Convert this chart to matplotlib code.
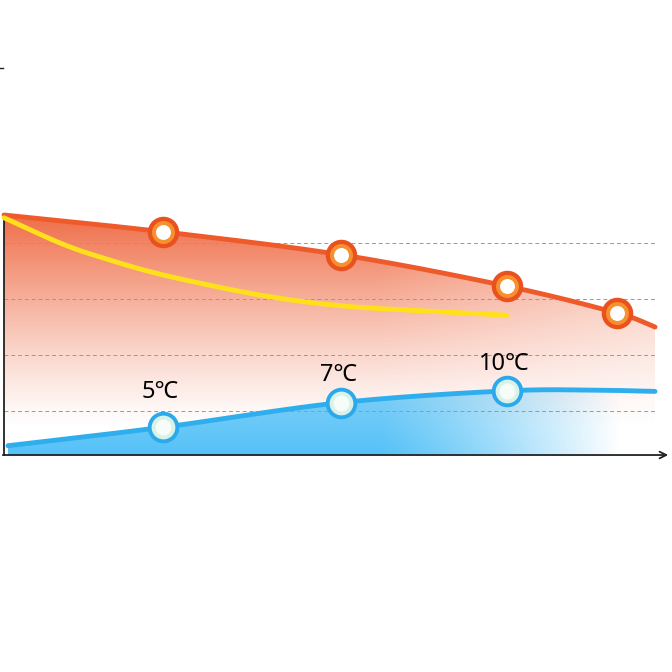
import numpy as np
import matplotlib
matplotlib.use("Agg")
import matplotlib.pyplot as plt
from matplotlib.path import Path
from matplotlib.patches import PathPatch, FancyArrowPatch

plt.rcParams['font.family'] = ['Noto Sans', 'Noto Sans CJK SC', 'DejaVu Sans']

# readings (x in chart units, y in grid units: gridlines at 1..4)
hot_x = [4, 163, 341, 507, 617, 655]
hot_y = [4.50, 4.20, 3.79, 3.23, 2.75, 2.50]
hot_mark_x = [163, 341, 507, 617]
hot_mark_y = [4.20, 3.79, 3.23, 2.75]

yel_x = [4, 60, 100, 163, 260, 340, 420, 507]
yel_y = [4.45, 4.00, 3.75, 3.43, 3.07, 2.88, 2.79, 2.71]

cold_x = [8, 163, 341, 507, 600, 655]
cold_y = [0.38, 0.71, 1.15, 1.36, 1.37, 1.35]
cold_mark_x = [163, 341, 507]
cold_mark_y = [0.71, 1.15, 1.36]
cold_labels = ['5℃', '7℃', '10℃']
label_gap = [0.42, 0.28, 0.26]

grid_y = [1, 2, 3, 4]
y_base = 0.214


def smooth(xs, ys, n=40):
    # catmull-rom through the read points, just for drawing
    xs = np.asarray(xs, float); ys = np.asarray(ys, float)
    px = np.concatenate([[2*xs[0]-xs[1]], xs, [2*xs[-1]-xs[-2]]])
    py = np.concatenate([[2*ys[0]-ys[1]], ys, [2*ys[-1]-ys[-2]]])
    ox, oy = [], []
    t = np.linspace(0, 1, n)
    for i in range(1, len(px)-2):
        for arr, out in ((px, ox), (py, oy)):
            p0, p1, p2, p3 = arr[i-1], arr[i], arr[i+1], arr[i+2]
            out.extend(0.5*((2*p1) + (-p0+p2)*t + (2*p0-5*p1+4*p2-p3)*t**2 + (-p0+3*p1-3*p2+p3)*t**3))
    return np.array(ox), np.array(oy)


fig = plt.figure(figsize=(6.72, 6.72), dpi=100)
ax = fig.add_axes([0, 0, 1, 1])
ax.set_xlim(0, 672)
ax.set_ylim(1 - 261/56, 1 + 411/56)
ax.axis('off')

# orange gradient fill
hx, hy = smooth(hot_x, hot_y)
verts = list(zip(hx, hy)) + [(hx[-1], y_base), (hx[0], y_base)]
clip = PathPatch(Path(verts), facecolor='none', edgecolor='none')
ax.add_patch(clip)
gx = np.linspace(0, 672, 300)
gy = np.linspace(y_base, 4.6, 200)
GX, GY = np.meshgrid(gx, gy)
va = np.clip((GY - 0.7) / (4.5 - 0.7), 0, 1) ** 1.2
ha = 1 - 0.45 * np.clip((GX - 380) / (655 - 380), 0, 1)
img = np.zeros(GX.shape + (4,))
img[..., 0] = 0.94; img[..., 1] = 0.43; img[..., 2] = 0.28
img[..., 3] = va * ha
im = ax.imshow(img, extent=(0, 672, y_base, 4.6), origin='lower', aspect='auto', zorder=1)
im.set_clip_path(clip)

# blue gradient fill
cx, cy = smooth(cold_x, cold_y)
verts2 = list(zip(cx, cy)) + [(cx[-1], y_base), (cx[0], y_base)]
clip2 = PathPatch(Path(verts2), facecolor='none', edgecolor='none')
ax.add_patch(clip2)
gy2 = np.linspace(y_base, 1.5, 100)
GX2, GY2 = np.meshgrid(gx, gy2)
ha2 = 1 - np.clip((GX2 - 380) / (620 - 380), 0, 1) ** 1.2
va2 = 0.75 + 0.25 * np.clip((1.4 - GY2) / 1.2, 0, 1)
img2 = np.zeros(GX2.shape + (4,))
img2[..., 0] = 0.33; img2[..., 1] = 0.76; img2[..., 2] = 0.97
img2[..., 3] = ha2 * va2
im2 = ax.imshow(img2, extent=(0, 672, y_base, 1.5), origin='lower', aspect='auto', zorder=2)
im2.set_clip_path(clip2)

# grid
for g in grid_y:
    ax.plot([4, 655], [g, g], ls=(0, (4, 3)), color='#999999', lw=0.7, zorder=3)

# axes
ax.plot([4, 4], [y_base, 4.5], color='#222222', lw=1.3, zorder=4)
ax.add_patch(FancyArrowPatch((0, y_base), (671, y_base), arrowstyle='->', mutation_scale=12,
                             color='#222222', lw=1.3, zorder=4))
ax.plot([0, 3], [1 + (411-68)/56]*2, color='#222222', lw=1, zorder=4)

# lines
ax.plot(hx, hy, color='#EE5A2A', lw=3.5, solid_capstyle='round', zorder=5)
yx, yy = smooth(yel_x, yel_y)
ax.plot(yx, yy, color='#FFE01A', lw=3.5, solid_capstyle='round', zorder=5)
ax.plot(cx, cy, color='#2FAEEE', lw=3.5, solid_capstyle='round', zorder=5)

# markers
ax.scatter(hot_mark_x, hot_mark_y, s=470, color='#E9521F', zorder=6)
ax.scatter(hot_mark_x, hot_mark_y, s=240, color='#F7902E', zorder=7)
ax.scatter(hot_mark_x, hot_mark_y, s=95, color='white', zorder=8)
ax.scatter(cold_mark_x, cold_mark_y, s=470, color='#2AA9EC', zorder=6)
ax.scatter(cold_mark_x, cold_mark_y, s=260, color='#D8F2EA', zorder=7)
ax.scatter(cold_mark_x, cold_mark_y, s=110, color='#F6FCF8', zorder=8)

for x, y, t, g in zip(cold_mark_x, cold_mark_y, cold_labels, label_gap):
    ax.text(x - 3, y + g, t, ha='center', va='bottom', fontsize=17, color='black', zorder=9)

fig.savefig('out.png', dpi=100)
